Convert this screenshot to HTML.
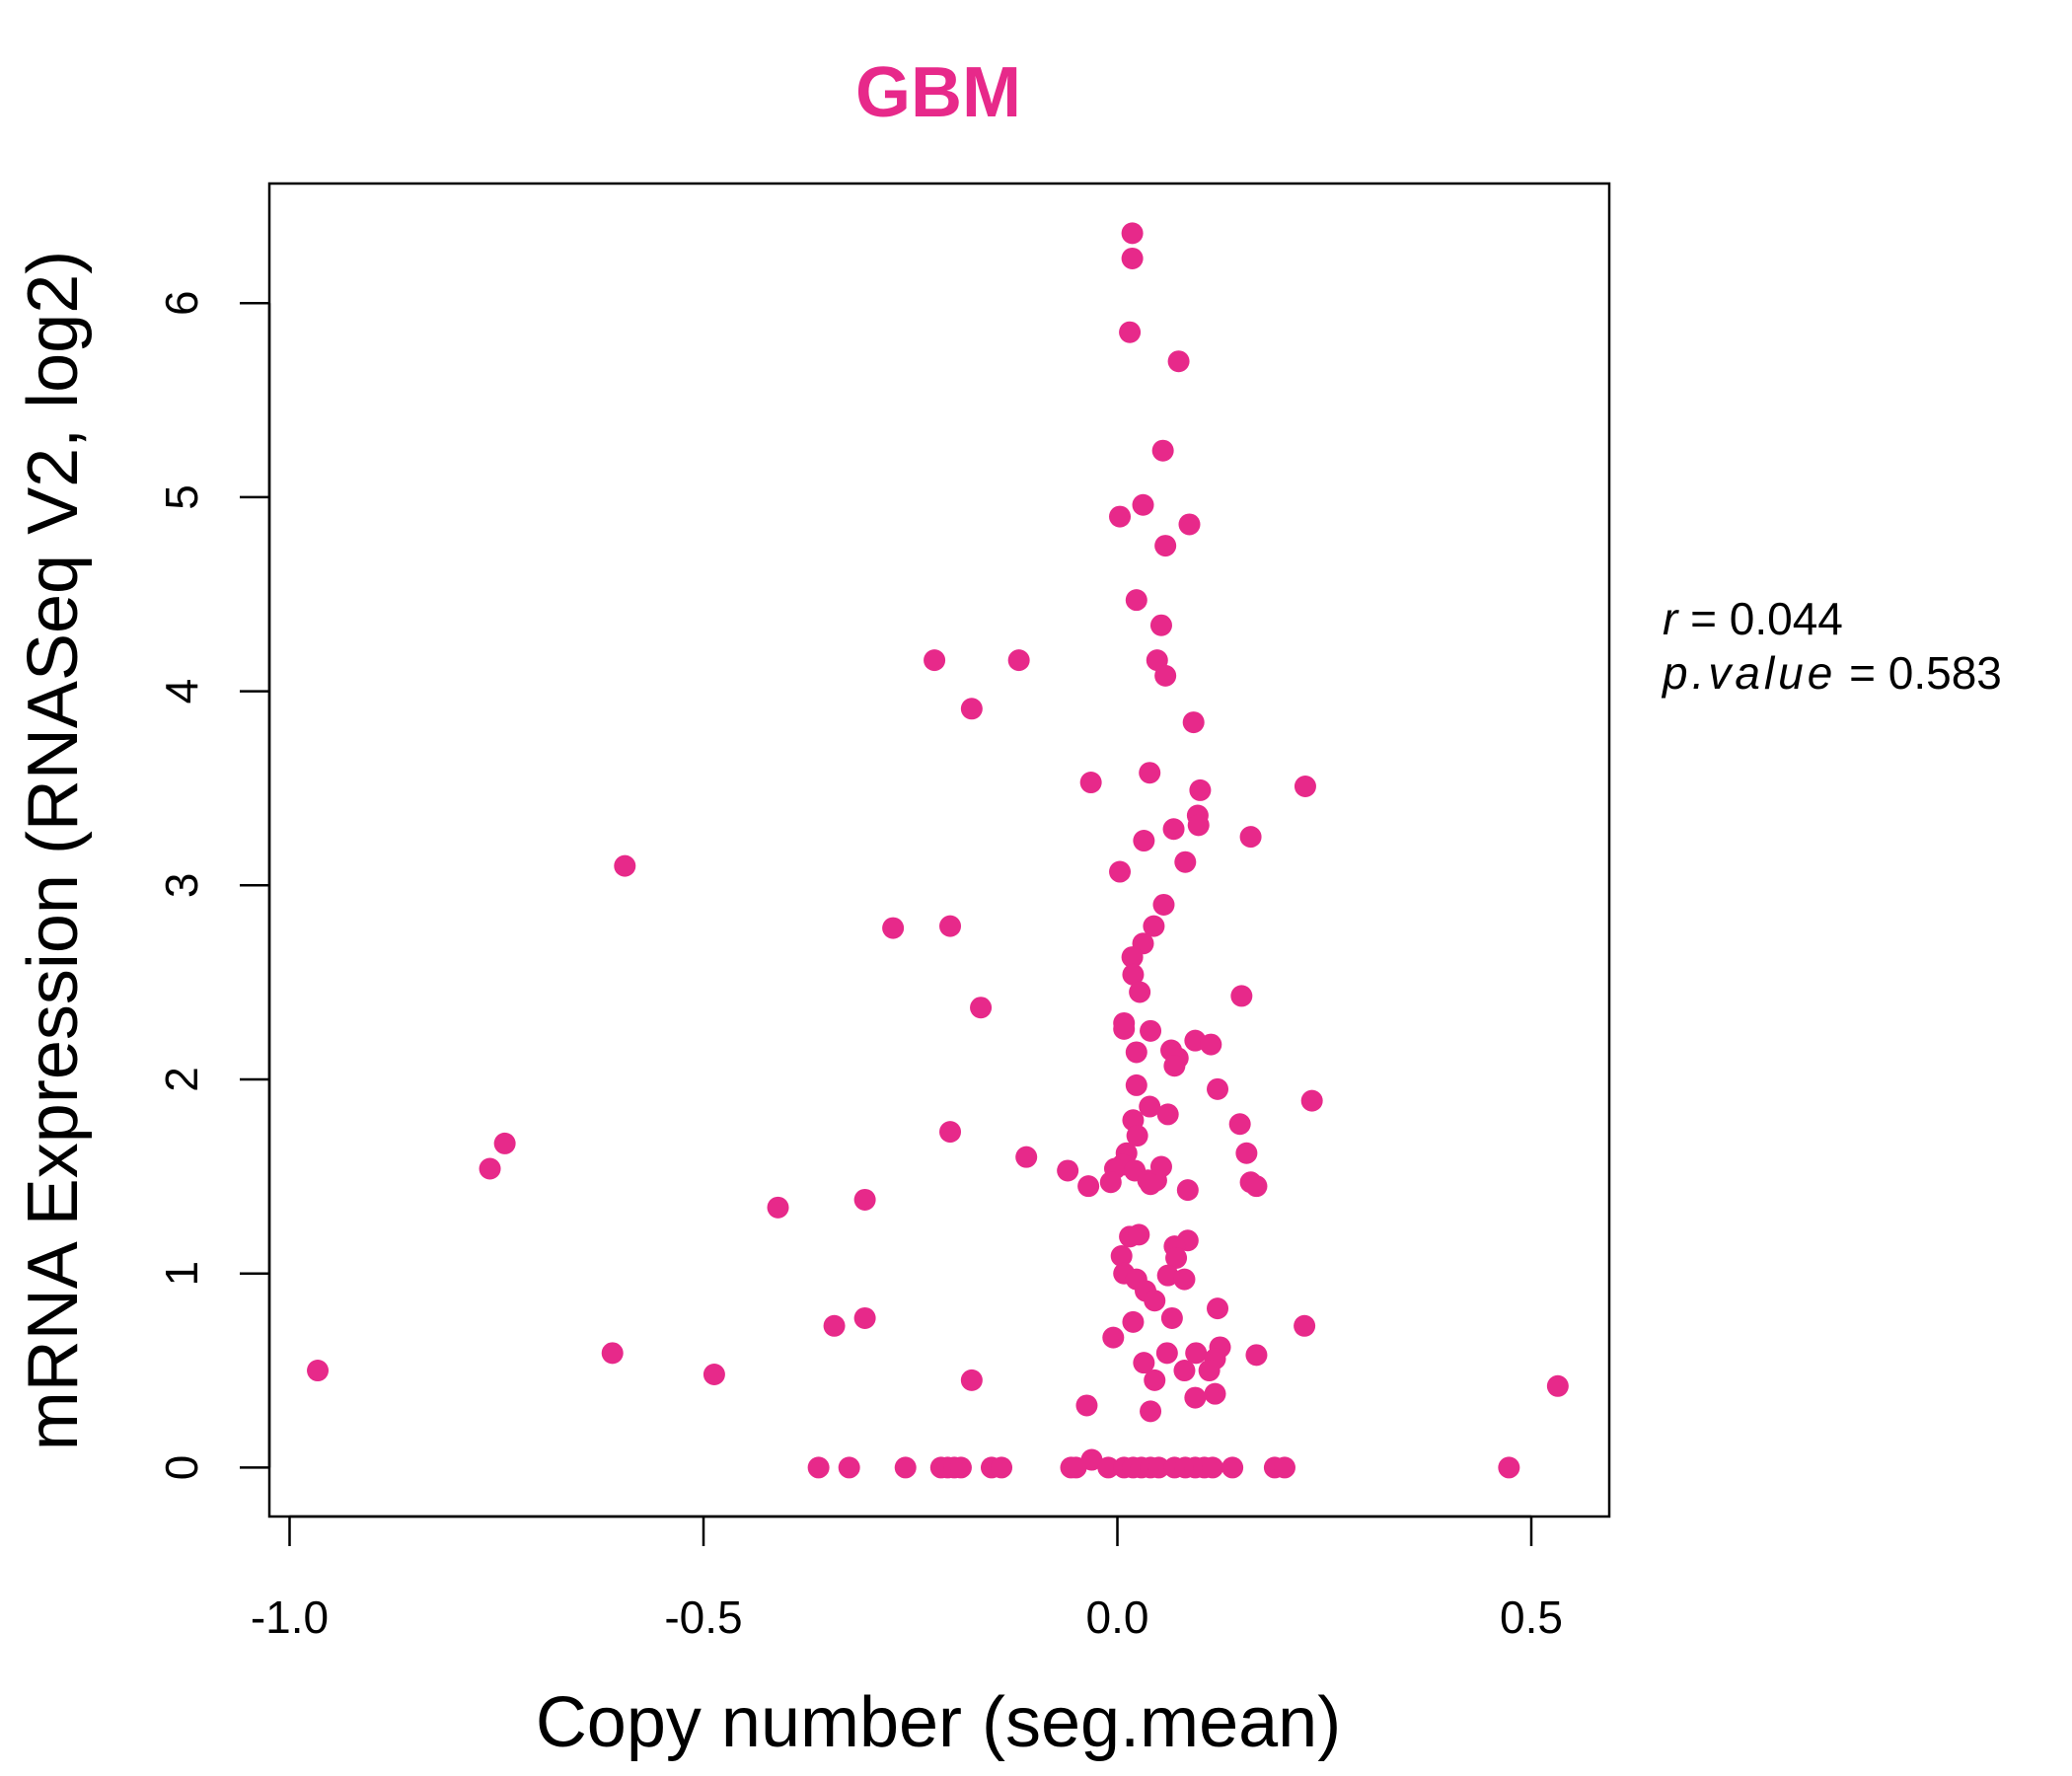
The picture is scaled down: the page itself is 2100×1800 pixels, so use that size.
<!DOCTYPE html>
<html><head><meta charset="utf-8"><style>
html,body{margin:0;padding:0;background:#fff;}
svg{display:block;font-family:"Liberation Sans",sans-serif;}
</style></head><body>
<svg id="chart" width="2100" height="1800" viewBox="0 0 2100 1800" xmlns="http://www.w3.org/2000/svg">
<rect width="2100" height="1800" fill="#fff"/>
<text x="951" y="118" text-anchor="middle" font-size="72" font-weight="bold" fill="#E7298A">GBM</text>
<rect x="273" y="186" width="1358" height="1351" fill="none" stroke="#000" stroke-width="2.5"/>
<g id="xaxis"></g>
<g id="yaxis"></g>
<g id="points"></g>
<text x="951" y="1770" text-anchor="middle" font-size="72">Copy number (seg.mean)</text>
<text transform="translate(78,862) rotate(-90)" text-anchor="middle" font-size="72">mRNA Expression (RNASeq V2, log2)</text>
<text x="1685" y="643" font-size="46"><tspan font-style="italic">r</tspan> = 0.044</text>
<text x="1685" y="698" font-size="46"><tspan font-style="italic" letter-spacing="4">p.value</tspan> = 0.583</text>
</svg>
<script>
const xTicks = [-1.0, -0.5, 0.0, 0.5];
const xTickLabels = ["-1.0", "-0.5", "0.0", "0.5"];
const yTicks = [0, 1, 2, 3, 4, 5, 6];
const yTickLabels = ["0", "1", "2", "3", "4", "5", "6"];
const copyNumber = [0.018,0.018,0.015,0.074,0.055,0.031,0.003,0.087,0.058,0.023,0.053,-0.221,-0.119,0.048,0.058,-0.176,0.092,0.039,-0.032,0.227,0.1,0.097,0.098,0.068,0.032,0.161,-0.595,0.082,0.003,0.056,-0.271,-0.202,0.044,0.031,0.018,0.019,0.027,0.15,-0.165,0.008,0.008,0.04,0.094,0.113,0.023,0.065,0.073,0.069,0.023,0.121,0.235,0.039,0.061,0.019,0.148,-0.202,0.024,-0.740,0.156,0.011,-0.11,0.006,-0.758,-0.06,0.053,-0.003,0.021,0.037,0.047,-0.035,-0.008,0.161,0.168,0.04,0.085,-0.41,-0.305,0.015,0.026,0.085,0.069,0.005,0.071,0.008,0.023,0.061,0.081,0.034,0.045,0.121,-0.305,0.019,0.066,-0.342,0.226,-0.005,0.124,-0.61,0.06,0.095,0.168,0.118,0.032,-0.966,0.081,0.111,-0.487,-0.176,0.045,0.532,0.118,0.094,-0.037,0.04,-0.031,
-0.361,-0.324,-0.256,-0.213,-0.205,-0.197,-0.189,-0.152,-0.140,-0.056,-0.050,-0.011,0.008,0.019,0.029,0.040,0.050,0.069,0.082,0.094,0.105,0.115,0.139,0.190,0.202,0.473];
const expression = [6.36,6.23,5.85,5.70,5.24,4.96,4.90,4.86,4.75,4.47,4.34,4.16,4.16,4.16,4.08,3.91,3.84,3.58,3.53,3.51,3.49,3.36,3.31,3.29,3.23,3.25,3.10,3.12,3.07,2.90,2.78,2.79,2.79,2.70,2.63,2.54,2.45,2.43,2.37,2.29,2.26,2.25,2.20,2.18,2.14,2.15,2.11,2.07,1.97,1.95,1.89,1.86,1.82,1.79,1.77,1.73,1.71,1.67,1.62,1.62,1.60,1.56,1.54,1.53,1.55,1.54,1.53,1.48,1.48,1.45,1.47,1.47,1.45,1.46,1.43,1.34,1.38,1.19,1.20,1.17,1.14,1.09,1.08,1.00,0.97,0.99,0.97,0.91,0.86,0.82,0.77,0.75,0.77,0.73,0.73,0.67,0.62,0.59,0.59,0.59,0.58,0.56,0.54,0.50,0.50,0.50,0.48,0.45,0.45,0.42,0.38,0.36,0.32,0.29,0.04,
0,0,0,0,0,0,0,0,0,0,0,0,0,0,0,0,0,0,0,0,0,0,0,0,0,0];

const NS = "http://www.w3.org/2000/svg";
function xScale(v){ return 1132.5 + v * 839; }
function yScale(v){ return 1487.4 - v * 196.7; }

const xa = document.getElementById('xaxis');
const ya = document.getElementById('yaxis');
const pts = document.getElementById('points');

const xl = document.createElementNS(NS,'line');


xl.setAttribute('x1', xScale(xTicks[0])); xl.setAttribute('x2', xScale(xTicks[xTicks.length-1]));
xl.setAttribute('y1', 1537); xl.setAttribute('y2', 1537);
xl.setAttribute('stroke', '#000'); xl.setAttribute('stroke-width', '2.5');
xa.appendChild(xl);
xTicks.forEach((t, i) => {
  const tk = document.createElementNS(NS,'line');
  
  
  tk.setAttribute('x1', xScale(t)); tk.setAttribute('x2', xScale(t));
  tk.setAttribute('y1', 1537); tk.setAttribute('y2', 1567);
  tk.setAttribute('stroke', '#000'); tk.setAttribute('stroke-width', '2.5');
  xa.appendChild(tk);
  const lb = document.createElementNS(NS,'text');
  
  
  lb.setAttribute('x', xScale(t)); lb.setAttribute('y', 1655);
  lb.setAttribute('text-anchor', 'middle'); lb.setAttribute('font-size', '46');
  lb.textContent = xTickLabels[i];
  xa.appendChild(lb);
});

const yl = document.createElementNS(NS,'line');


yl.setAttribute('x1', 273); yl.setAttribute('x2', 273);
yl.setAttribute('y1', yScale(yTicks[0])); yl.setAttribute('y2', yScale(yTicks[yTicks.length-1]));
yl.setAttribute('stroke', '#000'); yl.setAttribute('stroke-width', '2.5');
ya.appendChild(yl);
yTicks.forEach((t, i) => {
  const tk = document.createElementNS(NS,'line');
  
  
  tk.setAttribute('x1', 243); tk.setAttribute('x2', 273);
  tk.setAttribute('y1', yScale(t)); tk.setAttribute('y2', yScale(t));
  tk.setAttribute('stroke', '#000'); tk.setAttribute('stroke-width', '2.5');
  ya.appendChild(tk);
  const lb = document.createElementNS(NS,'text');
  
  
  lb.setAttribute('transform', 'translate(200,' + yScale(t) + ') rotate(-90)');
  lb.setAttribute('text-anchor', 'middle'); lb.setAttribute('font-size', '46');
  lb.textContent = yTickLabels[i];
  ya.appendChild(lb);
});

copyNumber.forEach((v, i) => {
  const c = document.createElementNS(NS,'circle');
  
  
  c.setAttribute('cx', xScale(v));
  c.setAttribute('cy', yScale(expression[i]));
  c.setAttribute('r', 11);
  c.setAttribute('fill', '#E7298A');
  pts.appendChild(c);
});
</script>
</body></html>
